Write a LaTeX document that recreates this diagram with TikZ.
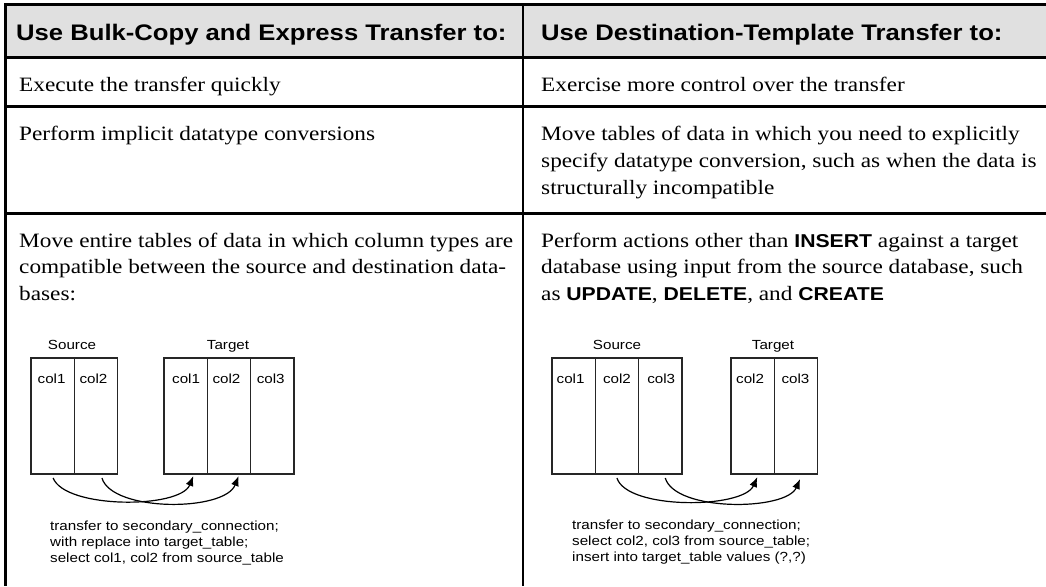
\documentclass[tikz,border=0pt]{standalone}
\usepackage{fontspec}
\setmainfont{Liberation Serif}[FakeStretch=1.14]
\newfontfamily\headfont{Liberation Sans}[FakeStretch=1.14]
\newfontfamily\diagfont{Liberation Sans}[FakeStretch=1.15]
\usetikzlibrary{arrows.meta,calc}
\definecolor{hdrgray}{RGB}{224,224,224}
\newcommand{\kw}[1]{{\headfont\bfseries\fontsize{18.6}{22}\selectfont #1}}
\tikzset{
  grid/.style={draw=black, line width=2.4pt},
  frame/.style={draw=black, line width=3pt},
  headtxt/.style={anchor=base west, inner sep=0pt, font=\headfont\bfseries\fontsize{22.5}{26}\selectfont},
  bodytxt/.style={anchor=base west, inner sep=0pt, font=\fontsize{20.4}{27}\selectfont},
  cell/.style={draw=black!85, line width=1.2pt, anchor=north west, minimum width=43.3pt,
    minimum height=116pt, inner sep=0pt, outer sep=0pt},
  smalltxt/.style={inner sep=0pt, font=\diagfont\fontsize{13.2}{15.5}\selectfont},
  collbl/.style={smalltxt, anchor=base west},
  flow/.style={draw=black, line width=1.2pt, -{Latex[length=10pt,width=8pt]}},
}
\begin{document}
\begin{tikzpicture}[x=1pt, y=-1pt]
\useasboundingbox (0,0) rectangle (1046,586);

% table frame, header band and rules
\fill[hdrgray] (5,5) rectangle (1046,57.5);
\draw[frame] (1046,5) -- (5,5) -- (5,586);
\draw[frame] (5,57.5) -- (1046,57.5);
\draw[grid] (5,106.5) -- (1046,106.5);
\draw[grid] (5,213.5) -- (1046,213.5);
\draw[grid] (523,5) -- (523,586);

% header
\node[headtxt] (h1) at (16,41) {Use Bulk-Copy and Express Transfer to:};
\node[headtxt] (h2) at (541,41) {Use Destination-Template Transfer to:};

% row 1
\node[bodytxt] (a1) at (19,91) {Execute the transfer quickly};
\node[bodytxt] (b1) at (541,91) {Exercise more control over the transfer};

% row 2
\node[bodytxt] (a2) at (19,140) {Perform implicit datatype conversions};
\node[bodytxt] (b2a) at (541,140) {Move tables of data in which you need to explicitly};
\node[bodytxt] (b2b) at (541,167) {specify datatype conversion, such as when the data is};
\node[bodytxt] (b2c) at (541,194) {structurally incompatible};

% row 3
\node[bodytxt] (a3a) at (19,247) {Move entire tables of data in which column types are};
\node[bodytxt] (a3b) at (19,273.5) {compatible between the source and destination data-};
\node[bodytxt] (a3c) at (19,300) {bases:};
\node[bodytxt] (b3a) at (541,247) {Perform actions other than \kw{INSERT} against a target};
\node[bodytxt] (b3b) at (541,273.5) {database using input from the source database, such};
\node[bodytxt] (b3c) at (541,300) {as \kw{UPDATE}, \kw{DELETE}, and \kw{CREATE}};

% ---- bulk-copy example: two source columns into three target columns
\node[smalltxt, anchor=base] (lsrc) at (72,349) {Source};
\node[smalltxt, anchor=base] (ltgt) at (228,349) {Target};
\node[cell] (ls1) at (31,358) {};
\node[cell] (ls2) at (74.3,358) {};
\node[cell] (lt1) at (164,358) {};
\node[cell] (lt2) at (207.3,358) {};
\node[cell] (lt3) at (250.6,358) {};
\node[collbl] (ls1l) at ($(ls1.north west)+(6.5,25)$) {col1};
\node[collbl] (ls2l) at ($(ls2.north west)+(5,25)$) {col2};
\node[collbl] (lt1l) at ($(lt1.north west)+(8,25)$) {col1};
\node[collbl] (lt2l) at ($(lt2.north west)+(5,25)$) {col2};
\node[collbl] (lt3l) at ($(lt3.north west)+(6,25)$) {col3};
\coordinate (lf1) at ($(ls1.south)+(0.5,4)$);
\coordinate (lf2) at ($(ls2.south)+(6,4)$);
\coordinate (le1) at ($(lt1.south east)+(-14,2)$);
\coordinate (le2) at ($(lt2.south east)+(-12,2)$);
\draw[flow] (lf1) .. controls +(12,31) and +(-13,33) .. (le1);
\draw[flow] (lf2) .. controls +(10,34) and +(-14,36) .. (le2);
\node[smalltxt, anchor=base west] (lq1) at (50,530) {transfer to secondary\_connection;};
\node[smalltxt, anchor=base west] (lq2) at (50,546) {with replace into target\_table;};
\node[smalltxt, anchor=base west] (lq3) at (50,562) {select col1, col2 from source\_table};

% ---- destination-template example: three source columns into two target columns
\node[smalltxt, anchor=base] (rsrc) at (617,349) {Source};
\node[smalltxt, anchor=base] (rtgt) at (773,349) {Target};
\node[cell] (rs1) at (552,358) {};
\node[cell] (rs2) at (595.3,358) {};
\node[cell] (rs3) at (638.6,358) {};
\node[cell] (rt1) at (731,358) {};
\node[cell] (rt2) at (774.3,358) {};
\node[collbl] (rs1l) at ($(rs1.north west)+(4.5,25)$) {col1};
\node[collbl] (rs2l) at ($(rs2.north west)+(7.5,25)$) {col2};
\node[collbl] (rs3l) at ($(rs3.north west)+(8.5,25)$) {col3};
\node[collbl] (rt1l) at ($(rt1.north west)+(5,25)$) {col2};
\node[collbl] (rt2l) at ($(rt2.north west)+(7,25)$) {col3};
\coordinate (rf1) at ($(rs2.south)+(0,4)$);
\coordinate (rf2) at ($(rs3.south)+(5,4)$);
\coordinate (re1) at ($(rt1.south east)+(-17,3)$);
\coordinate (re2) at ($(rt2.south east)+(-17.5,5)$);
\draw[flow] (rf1) .. controls +(10,32) and +(-14,32) .. (re1);
\draw[flow] (rf2) .. controls +(10,34) and +(-14,32) .. (re2);
\node[smalltxt, anchor=base west] (rq1) at (572,529) {transfer to secondary\_connection;};
\node[smalltxt, anchor=base west] (rq2) at (572,545) {select col2, col3 from source\_table;};
\node[smalltxt, anchor=base west] (rq3) at (572,561) {insert into target\_table values (?,?)};
\end{tikzpicture}
\end{document}
